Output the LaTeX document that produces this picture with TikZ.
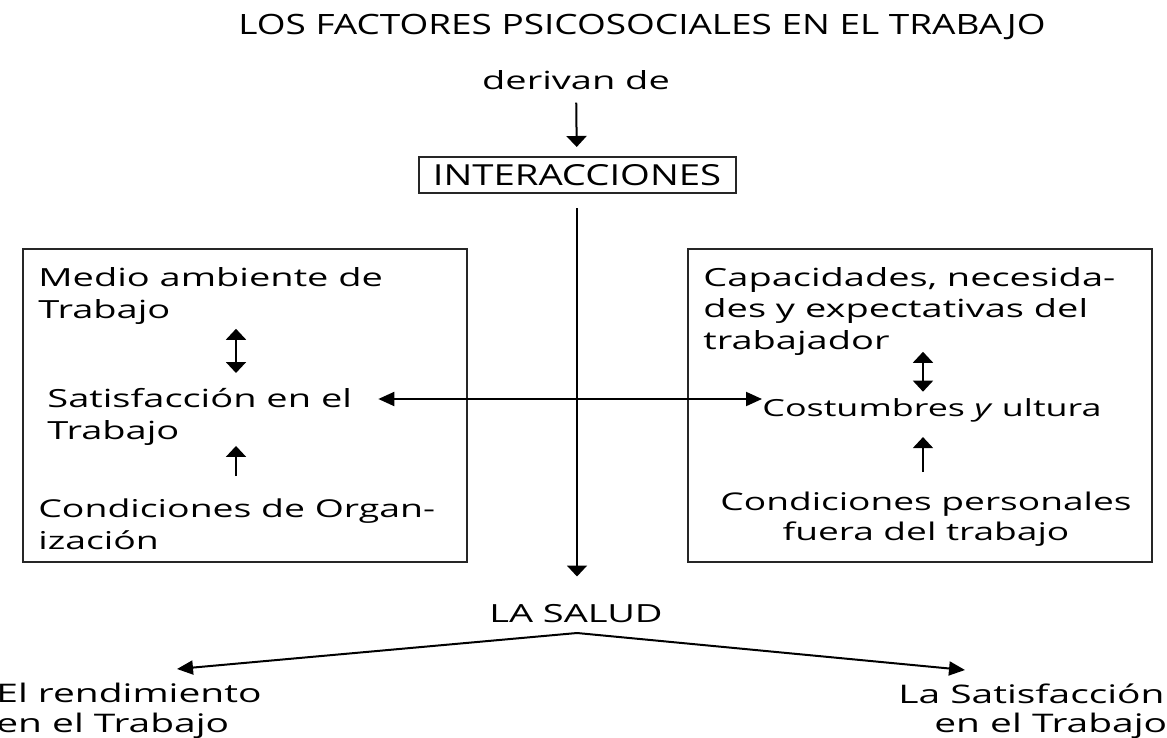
\documentclass[tikz,border=0pt]{standalone}
\usepackage{fontspec}
\setmainfont{Open Sans}[FakeStretch=1.52]
\newfontfamily\narrowfont{Open Sans}[FakeStretch=1.32]
\usetikzlibrary{arrows.meta}

\tikzset{
  box/.style={draw=black!85, line width=1pt, inner sep=0pt},
  txt/.style={inner sep=0pt, align=left, font=\fontsize{12.5}{16}\selectfont},
  vhead/.tip={Triangle[length=5.5pt,width=10pt]},
  hhead/.tip={Triangle[length=8pt,width=7pt]},
  varr/.style={-vhead, line width=1pt},
  vdbl/.style={vhead-vhead, line width=1pt},
  harr/.style={-hhead, line width=1pt},
  hdbl/.style={hhead-hhead, line width=1pt}
}

\begin{document}
\begin{tikzpicture}[x=0.5pt, y=-0.5pt]
  \useasboundingbox (0,0) rectangle (1167,738);
  \clip (0,0) rectangle (1167,738);
  %top
  \node[txt, anchor=base, font=\narrowfont\fontsize{14}{17}\selectfont] (titulo) at (642,35)
        {LOS FACTORES PSICOSOCIALES EN EL TRABAJO};
  \node[txt, anchor=base] (derivan) at (576,90) {derivan de};
  \node[box, minimum width=158.5pt, minimum height=18pt,
        font=\narrowfont\fontsize{14.5}{17}\selectfont] (inter) at (577,175) {INTERACCIONES};
  %frames
  \node[box, minimum width=222pt, minimum height=156.5pt] (izq) at (245,405.5) {};
  \node[box, minimum width=232pt, minimum height=156.5pt] (der) at (920,405.5) {};
  %left frame
  \node[txt, anchor=north west] (medio) at (38,267) {Medio ambiente de\\Trabajo};
  \node[txt, anchor=north west] (satis) at (47,388) {Satisfacción en el\\Trabajo};
  \node[txt, anchor=north west, font=\fontsize{12.3}{16}\selectfont] (orga) at (38,498)
        {Condiciones de Organ-\\ización};
  %right frame
  \node[txt, anchor=north west, font=\fontsize{12.5}{15.75}\selectfont] (capac) at (703,267)
        {Capacidades, necesida-\\des y expectativas del\\trabajador};
  \node[txt, anchor=base west, font=\fontsize{11.8}{16}\selectfont] (costum) at (762,416)
        {Costumbres \textit{y} ultura};
  \node[txt, anchor=north, align=center, font=\fontsize{12.2}{15}\selectfont] (perso) at (926,492)
        {Condiciones personales\\fuera del trabajo};
  %bottom
  \node[txt, anchor=base] (salud) at (576,622) {LA SALUD};
  \node[txt, anchor=north west, font=\fontsize{12.8}{15}\selectfont] (rend) at (-4,683)
        {El rendimiento\\en el Trabajo};
  \node[txt, anchor=north west, font=\fontsize{12.8}{14.5}\selectfont] (satlab) at (898,683)
        {La Satisfacción\\\hspace*{18pt}en el Trabajo};

  \coordinate (xl) at (236,0);
  \coordinate (xr) at (923,0);
  \coordinate (hy) at (0,399);
  \coordinate (apex) at (577,633);

  %arrows
  \draw[varr, shorten <=6pt, shorten >=4.5pt] (derivan) -- (inter);
  \draw[varr, shorten <=7pt, shorten >=13.5pt] (inter.south) -- (inter.south |- salud.north);
  \draw[hdbl] ([xshift=13pt]satis.east |- hy) -- (costum.west |- hy);
  \draw[vdbl, shorten <=2pt, shorten >=7.5pt] (medio.south -| xl) -- (satis.north -| xl);
  \draw[varr, shorten <=11pt, shorten >=0pt] (orga.north -| xl) -- (satis.south -| xl);
  \draw[vdbl, shorten <=-2pt, shorten >=3pt] (capac.south -| xr) -- (costum.north -| xr);
  \draw[varr, shorten <=10pt, shorten >=7.5pt] (perso.north -| xr) -- (costum.south -| xr);
  \draw[harr] (apex) -- (177,669) coordinate (tl);
  \draw[harr] (apex) -- (965,670) coordinate (tr);
\end{tikzpicture}
\end{document}
